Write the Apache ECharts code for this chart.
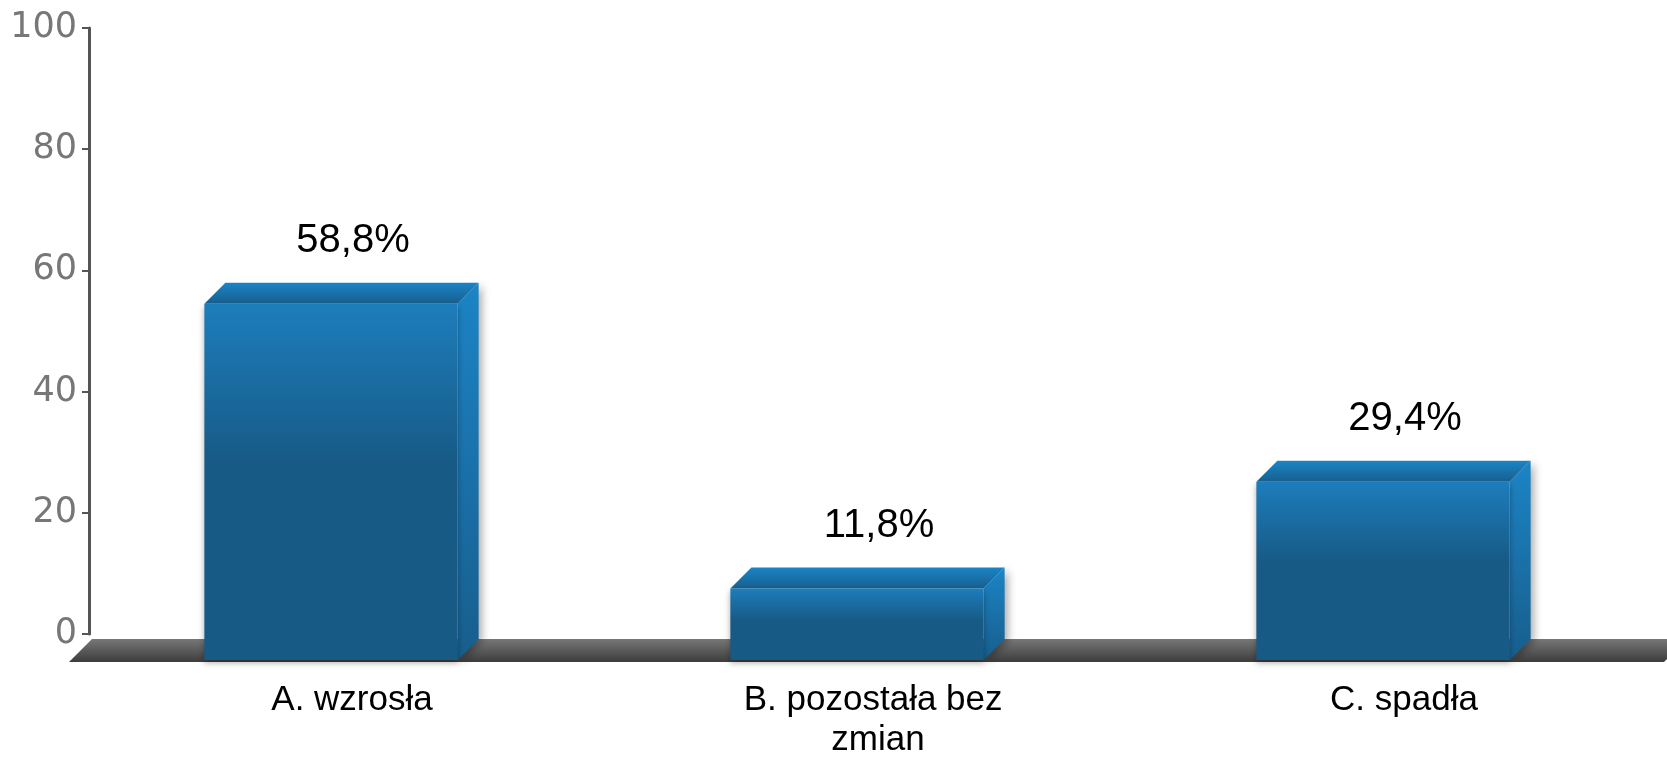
<!DOCTYPE html>
<html>
<head>
<meta charset="utf-8">
<script src="https://cdn.jsdelivr.net/npm/echarts@6/dist/echarts.min.js"></script>
<style>
  html, body { margin: 0; padding: 0; background: #fff; }
  #chart { width: 1667px; height: 760px; }
</style>
</head>
<body>
<div id="chart"></div>
<script>
const categories = ['A. wzrosła', 'B. pozostała bez zmian', 'C. spadła']
const values = [58.8, 11.8, 29.4]
const yTicks = [0, 20, 40, 60, 80, 100]

// 3D look: the boxes and floor sit a few px under the axis zero
const DEPTH = 21
const FLOOR_DEPTH = 23
const SHIFT = 5

const chart = echarts.init(document.getElementById('chart'))

const grad = (x, y, x2, y2, stops) => new echarts.graphic.LinearGradient(x, y, x2, y2,
  stops.map(s => ({ offset: s[0], color: s[1] })))

const renderBar = (params, api) => {
  const idx = api.value(0)
  const val = api.value(1)
  const top = api.coord([idx, val])
  const base = api.coord([idx, 0])
  const yT = top[1] + SHIFT
  const yB = base[1] + SHIFT
  const w = api.size([1, 0])[0] * 0.4815
  const bl = top[0] - w / 2
  const br = top[0] + w / 2
  const fl = bl - DEPTH
  const fr = br - DEPTH
  const children = []

  if (params.dataIndex === 0) {
    const cs = params.coordSys
    const x0 = cs.x + 3
    const x1 = cs.x + cs.width + 20
    children.push({
      type: 'polygon',
      shape: { points: [[x0, yB], [x1, yB], [x1 - FLOOR_DEPTH, yB + FLOOR_DEPTH], [x0 - FLOOR_DEPTH, yB + FLOOR_DEPTH]] },
      style: { fill: grad(0, 0, 0, 1, [[0, '#777777'], [1, '#3d3d3d']]) }
    })
  }

  children.push({
    type: 'polygon',
    shape: { points: [[fr, yT + DEPTH], [br, yT], [br, yB], [fr, yB + DEPTH]] },
    style: {
      fill: grad(0, 0, 0, 1, [[0, '#1c84c5'], [1, '#175e8d']]),
      shadowColor: 'rgba(0,0,0,0.35)', shadowBlur: 8, shadowOffsetX: 3, shadowOffsetY: 2
    }
  })
  children.push({
    type: 'polygon',
    shape: { points: [[fl, yT + DEPTH], [fr, yT + DEPTH], [br, yT], [bl, yT]] },
    style: { fill: grad(0, 0, 0, 1, [[0, '#1b84c6'], [1, '#175f8e']]) }
  })
  children.push({
    type: 'rect',
    shape: { x: fl, y: yT + DEPTH, width: w, height: yB - yT },
    style: {
      fill: grad(0, 0, 0, 1, [[0, '#1d7dbb'], [0.45, '#175a86'], [1, '#175a86']]),
      shadowColor: 'rgba(0,0,0,0.3)', shadowBlur: 6, shadowOffsetY: 3
    }
  })
  children.push({
    type: 'text',
    x: top[0] + 1,
    y: yT - 42,
    style: {
      text: String(val).replace('.', ',') + '%',
      fontFamily: 'Liberation Sans',
      fontSize: 40,
      fill: '#000',
      align: 'center',
      verticalAlign: 'middle'
    }
  })
  return { type: 'group', children }
}

const option = {
  animation: false,
  grid: { left: 89, top: 28, width: 1592, height: 607 },
  xAxis: {
    type: 'category',
    data: categories,
    axisLine: { show: false },
    axisTick: { show: false },
    axisLabel: {
      fontFamily: 'Liberation Sans',
      fontSize: 35,
      color: '#000',
      margin: 46,
      lineHeight: 40,
      width: 300,
      overflow: 'break'
    }
  },
  yAxis: {
    type: 'value',
    min: yTicks[0],
    max: yTicks[yTicks.length - 1],
    interval: 20,
    splitLine: { show: false },
    axisLine: { show: true, lineStyle: { color: '#555', width: 3 } },
    axisTick: { show: true, length: 7, lineStyle: { color: '#555', width: 2 } },
    axisLabel: {
      fontFamily: 'DejaVu Sans',
      fontSize: 35,
      color: '#777',
      margin: 12
    }
  },
  series: [{
    type: 'custom',
    renderItem: renderBar,
    data: values.map((v, i) => [i, v]),
    encode: { x: 0, y: 1 }
  }]
}

chart.setOption(option)
</script>
</body>
</html>
